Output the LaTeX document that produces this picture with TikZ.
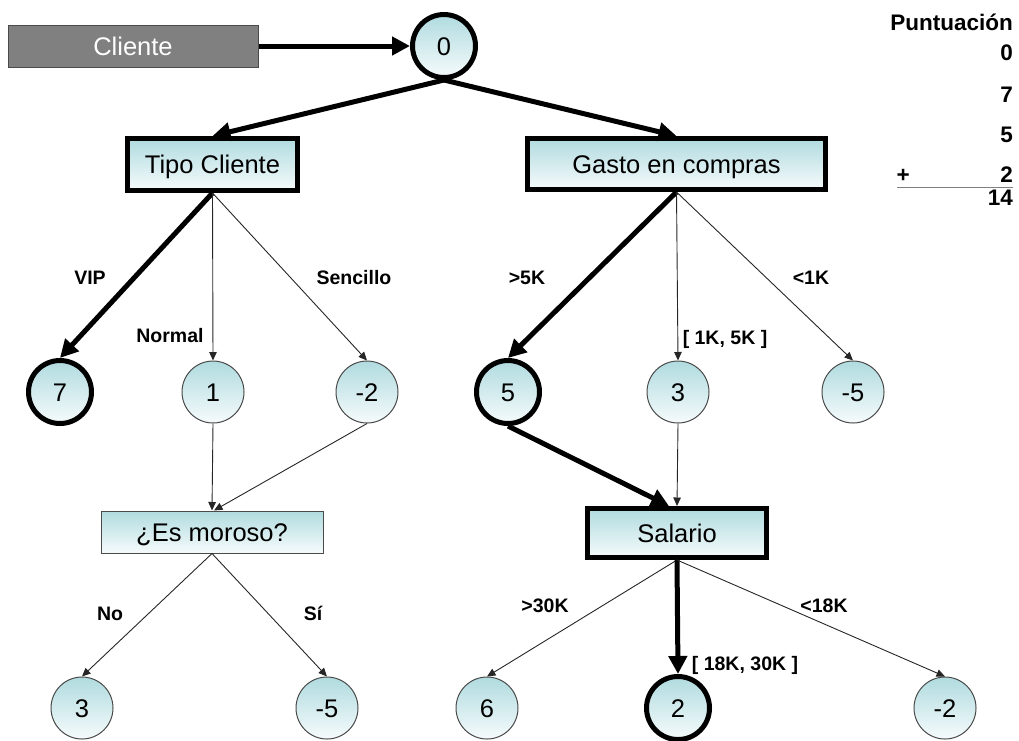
\documentclass[tikz,border=0pt]{standalone}
\usepackage{fontspec}
\setmainfont{Liberation Sans}
\usetikzlibrary{arrows.meta}
\definecolor{tealtop}{HTML}{B0DBDF}
\definecolor{tealbot}{HTML}{F6FBFC}
\definecolor{boxgray}{HTML}{808080}
\definecolor{edgegray}{HTML}{4A4A4A}

\begin{document}
\begin{tikzpicture}[x=1pt,y=-1pt,
  bigtext/.style={font=\fontsize{25.5}{30}\selectfont, text height=22pt, text depth=4pt},
  lbl/.style={font=\bfseries\fontsize{19.5}{23}\selectfont, inner sep=0pt,
              text height=17pt, text depth=3pt},
  score/.style={font=\bfseries\fontsize{22.5}{26}\selectfont, inner sep=0pt, anchor=base east},
  valnode/.style={circle, bigtext, top color=tealtop, bottom color=tealbot,
                  draw=edgegray, line width=1pt, minimum size=62pt, inner sep=0pt},
  valbold/.style={valnode, draw=black, line width=5pt, minimum size=63pt},
  qbox/.style={rectangle, bigtext, top color=tealtop, bottom color=tealbot,
               draw=edgegray, line width=1pt, inner sep=0pt},
  qboxbold/.style={qbox, draw=black, line width=5pt},
  thickarr/.style={line width=5pt, -{Triangle[length=18pt,width=18pt]}},
  thinarr/.style={line width=0.9pt, draw=black!85, -{Triangle[length=8.5pt,width=7.5pt]}},
]
\useasboundingbox (0,0) rectangle (1019,740);

% root and entry box
\node[rectangle, fill=boxgray, draw=edgegray, line width=1pt, minimum width=250pt,
      minimum height=42pt, text=white, bigtext, inner sep=0pt] (cliente) at (133,46) {Cliente};
\node[valbold] (c0) at (444,46) {0};

% first-level questions
\node[qboxbold, minimum width=170pt, minimum height=52pt] (tipo) at (212.5,164.5) {Tipo Cliente};
\node[qboxbold, minimum width=298pt, minimum height=51pt] (gasto) at (676.5,164) {Gasto en compras};

% second-level values
\node[valbold] (v7)  at (60,392)  {7};
\node[valnode] (v1)  at (213,392) {1};
\node[valnode] (vm2a) at (367,392) {-2};
\node[valbold] (v5)  at (508,392) {5};
\node[valnode] (v3)  at (678,392) {3};
\node[valnode] (vm5a) at (853,392) {-5};

% second-level questions
\node[qbox, minimum width=222pt, minimum height=42pt] (moroso) at (212,532) {¿Es moroso?};
\node[qboxbold, minimum width=179pt, minimum height=49pt] (salario) at (677,533) {Salario};

% leaves
\node[valnode] (v3b)  at (82,708)  {3};
\node[valnode] (vm5b) at (327,708) {-5};
\node[valnode] (v6)   at (487,708) {6};
\node[valbold] (v2)   at (678,708) {2};
\node[valnode] (vm2b) at (945,708) {-2};

% connectors
\draw[thickarr] (cliente.east) -- (c0.west);
\draw[thickarr] (c0.south) -- (tipo.north);
\draw[thickarr] (c0.south) -- (gasto.north);

\draw[thickarr] (tipo.south) -- (v7.north);
\draw[thinarr]  (tipo.south) -- (v1.north);
\draw[thinarr]  (tipo.south) -- (vm2a.north);

\draw[thickarr] (gasto.south) -- (v5.north);
\draw[thinarr]  (gasto.south) -- (v3.north);
\draw[thinarr]  (gasto.south) -- (vm5a.north);

\draw[thinarr]  (v1.south) -- (moroso.north);
\draw[thinarr]  (vm2a.south) -- ([xshift=2pt]moroso.north);

\draw[thinarr]  (v3.south) -- (salario.north);
\draw[thickarr] (v5.south) -- ([xshift=-8pt]salario.north);

\draw[thinarr]  (moroso.south) -- (v3b.north);
\draw[thinarr]  (moroso.south) -- (vm5b.north);

\draw[thinarr]  (salario.south) -- (v6.north);
\draw[thickarr] (salario.south) -- (v2.north);
\draw[thinarr]  (salario.south) -- (vm2b.north);

% branch labels
\node[lbl] (lvip)  at (90,277)  {VIP};
\node[lbl] (lnor)  at (170,335) {Normal};
\node[lbl] (lsen)  at (354,277) {Sencillo};
\node[lbl] (lg5)   at (527,277) {>5K};
\node[lbl] (lg15)  at (725,337) {[ 1K, 5K ]};
\node[lbl] (lg1)   at (811,277) {<1K};
\node[lbl] (lno)   at (110,613) {No};
\node[lbl] (lsi)   at (313,613) {Sí};
\node[lbl] (ls30)  at (545,605) {>30K};
\node[lbl] (ls18)  at (824,605) {<18K};
\node[lbl] (lsmid) at (745,663) {[ 18K, 30K ]};

% running score
\node[score] (shdr) at (1013,30)  {Puntuación};
\node[score] (s0)   at (1013,60)  {0};
\node[score] (s7)   at (1013,102) {7};
\node[score] (s5)   at (1013,142) {5};
\node[score] (s2)   at (1013,182) {2};
\node[score] (splus) at (910,182) {+};
\node[score] (stot) at (1013,205) {14};
\draw[gray, line width=1pt] (897,187) -- (1013,187);
\end{tikzpicture}
\end{document}
